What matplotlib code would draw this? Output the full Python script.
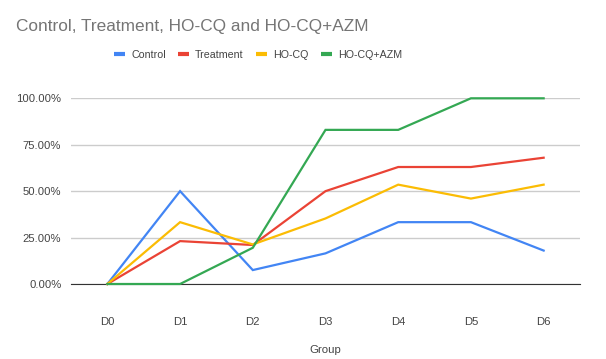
import matplotlib
matplotlib.use('Agg')
import matplotlib.pyplot as plt
from matplotlib.ticker import FuncFormatter

plt.rcParams['font.family'] = ['Liberation Sans', 'DejaVu Sans']

# data (fractions)
groups = ['D0', 'D1', 'D2', 'D3', 'D4', 'D5', 'D6']
control = [0.0, 0.50, 0.075, 0.165, 0.333, 0.333, 0.18]
treatment = [0.0, 0.231, 0.21, 0.50, 0.63, 0.63, 0.68]
ho_cq = [0.0, 0.333, 0.213, 0.353, 0.535, 0.46, 0.535]
ho_cq_azm = [0.0, 0.0, 0.195, 0.83, 0.83, 1.0, 1.0]

series = [('Control', control, '#4285F4'),
          ('Treatment', treatment, '#EA4335'),
          ('HO-CQ', ho_cq, '#FBBC04'),
          ('HO-CQ+AZM', ho_cq_azm, '#34A853')]

fig = plt.figure(figsize=(6.06, 3.59), dpi=100)
ax = fig.add_axes([71/606, 1-284/359, (580-71)/606, (284-98.3)/359])

x = range(len(groups))
for name, vals, col in series:
    ax.plot(x, vals, color=col, lw=1.6, label=name, clip_on=False,
            solid_joinstyle='miter', zorder=3)

ax.set_xlim(-0.5, 6.5)
ax.set_ylim(0, 1)
ax.set_yticks([0, 0.25, 0.5, 0.75, 1.0])
ax.yaxis.set_major_formatter(FuncFormatter(lambda v, p: f'{v*100:.2f}%'))
ax.set_xticks(list(x))
ax.set_xticklabels(groups)
ax.grid(axis='y', color='#cccccc', lw=1)
ax.set_axisbelow(True)
for s in ['top', 'right', 'left']:
    ax.spines[s].set_visible(False)
ax.spines['bottom'].set_color('#333333')
ax.spines['bottom'].set_zorder(2)
ax.tick_params(length=0, labelsize=8.1, labelcolor='#444444')
ax.tick_params(axis='x', pad=24)
ax.tick_params(axis='y', pad=7)
ax.set_xlabel('Group', fontsize=8.2, color='#444444', labelpad=13)

fig.text(16/606, 1-27/359, 'Control, Treatment, HO-CQ and HO-CQ+AZM',
         fontsize=12.4, color='#757575', va='center', ha='left')

leg = fig.legend(loc='center', bbox_to_anchor=(258/606, 1-55/359), ncol=4,
                 frameon=False, fontsize=7.7, handlelength=1.0,
                 handletextpad=0.6, columnspacing=1.15)
for h in leg.get_lines():
    h.set_linewidth(3)
    h.set_solid_capstyle('butt')
for t in leg.get_texts():
    t.set_color('#444444')

fig.savefig('out.png', dpi=100, facecolor='white')
